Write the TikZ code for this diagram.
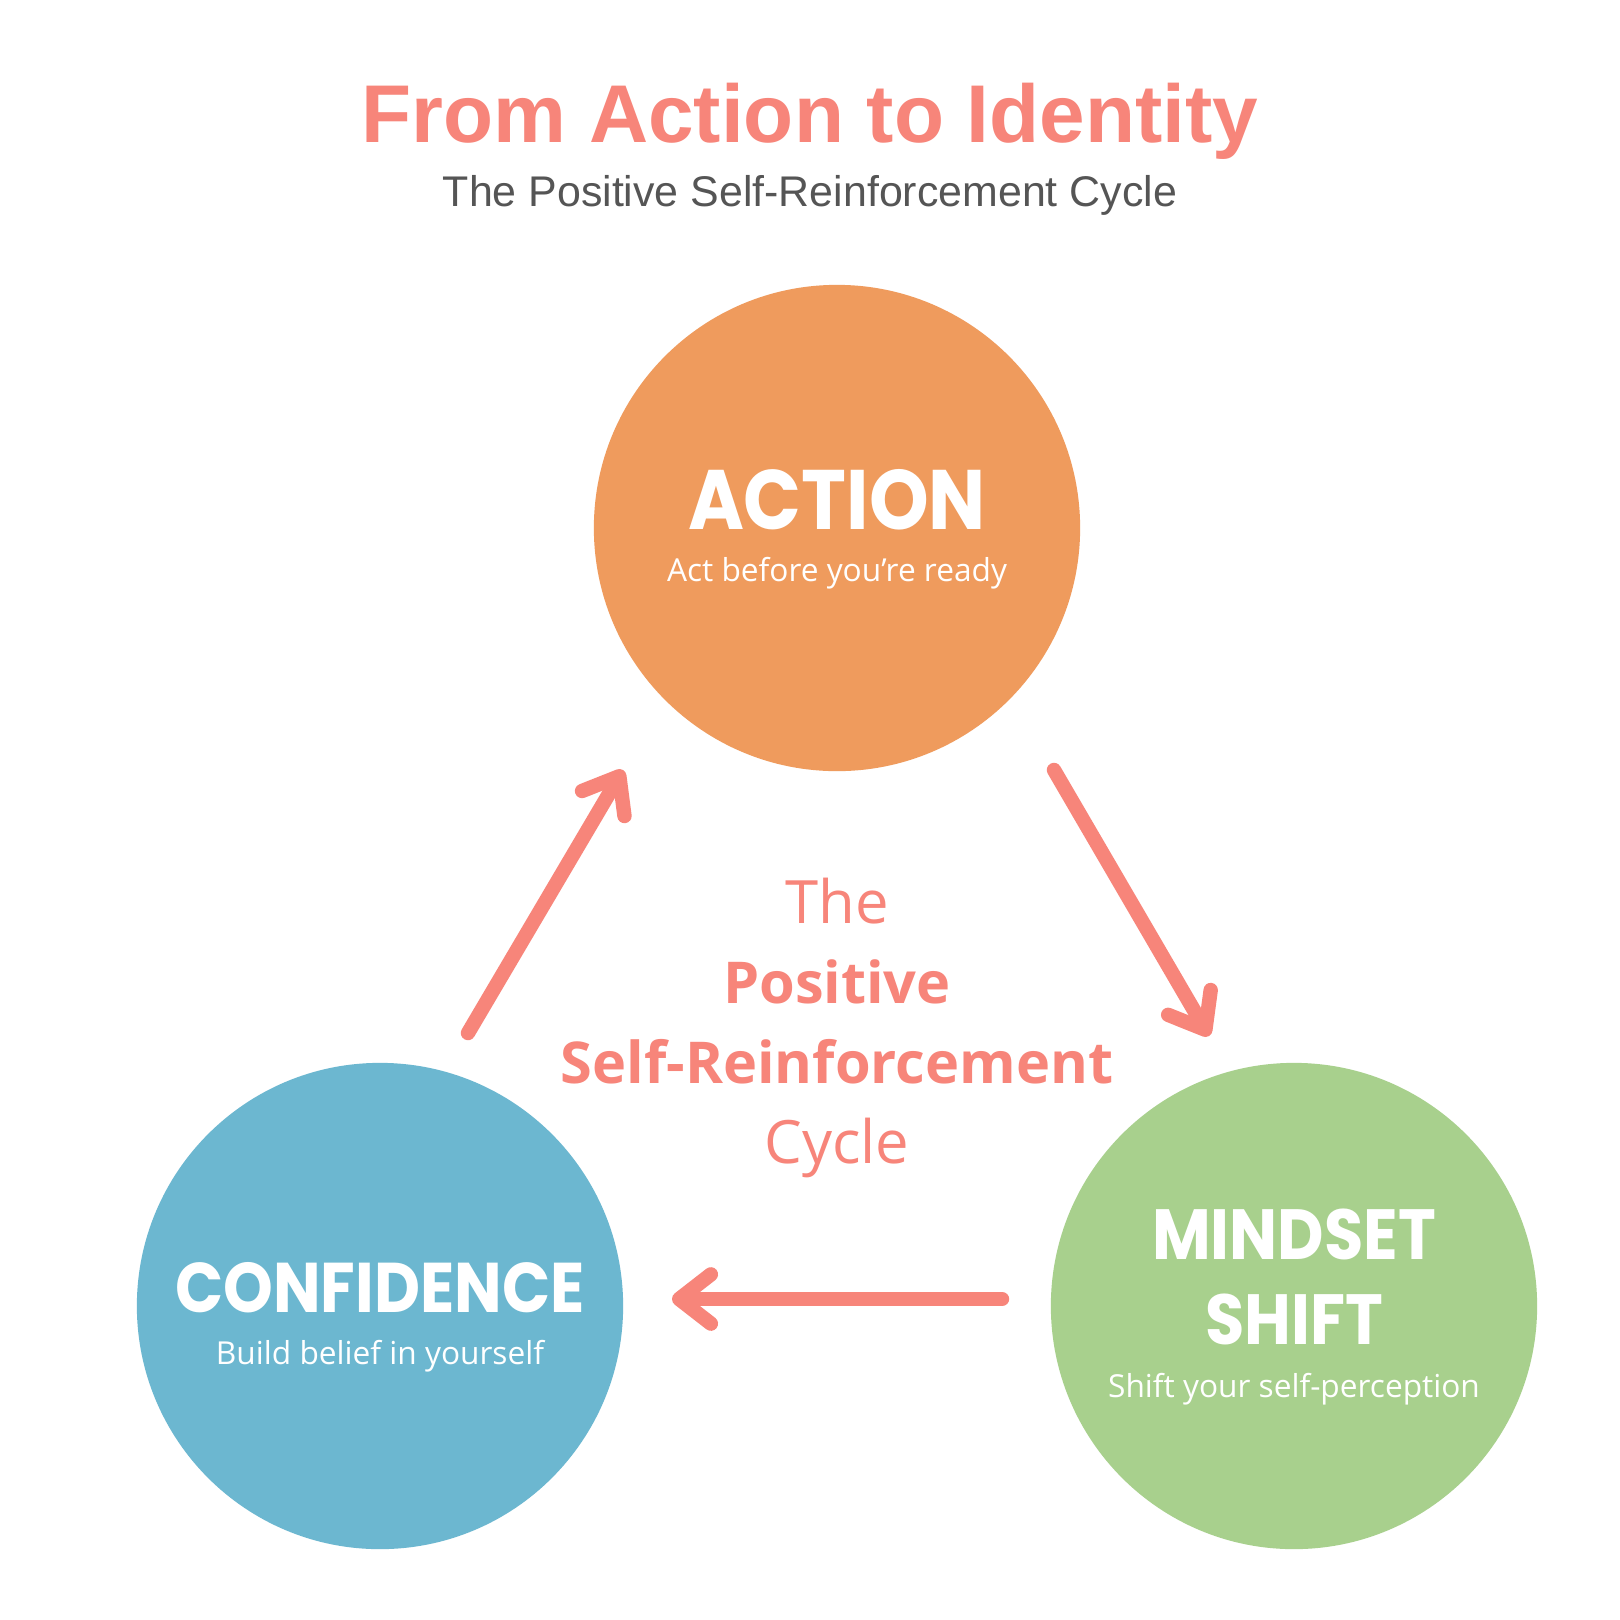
\documentclass[tikz,border=0pt]{standalone}
\usepackage{fontspec}
\usetikzlibrary{arrows.meta, positioning}
\newfontfamily\titlefont{Liberation Sans}
\newfontfamily\headfont[FakeStretch=0.9]{Poppins}
\newfontfamily\bodyfont{Open Sans}
\definecolor{salmon}{HTML}{F7857A}
\definecolor{actorange}{HTML}{EF9B5D}
\definecolor{confblue}{HTML}{6CB7D0}
\definecolor{mindgreen}{HTML}{A8D08D}
\definecolor{subgrey}{HTML}{555555}
\begin{document}
\begin{tikzpicture}[
  x=0.01cm, y=-0.01cm,
  stage/.style={circle, minimum size=4.86cm, inner sep=0pt},
  head/.style={font=\headfont\bfseries\fontsize{24}{26}\selectfont, text=white},
  note/.style={font=\bodyfont\fontsize{9}{11}\selectfont, text=white},
  mid/.style={font=\bodyfont\fontsize{17}{22}\selectfont, text=salmon},
  midbold/.style={font=\bodyfont\bfseries\fontsize{16.4}{22}\selectfont, text=salmon},
  cycle/.style={-{Straight Barb[length=9pt, width=14pt, round]}, line width=4.1pt, draw=salmon, line cap=round}
]
  \useasboundingbox (0,0) rectangle (1620,1620);
  \fill[white] (0,0) rectangle (1620,1620);

  % Title
  \node[anchor=base, font=\titlefont\bfseries\fontsize{23.3}{26}\selectfont, text=salmon] (title) at (810,142) {From Action to Identity};
  \node[anchor=base, font=\titlefont\fontsize{12.2}{14}\selectfont, text=subgrey] (subtitle) at (810,206) {The Positive Self-Reinforcement Cycle};

  % Stages
  \node[stage, fill=actorange] (action) at (837,528) {};
  \node[stage, fill=confblue] (confidence) at (380,1306) {};
  \node[stage, fill=mindgreen] (mindset) at (1294,1306) {};

  \node[head, anchor=base] (actionhead) at (837,529) {ACTION};
  \node[note, anchor=base] (actionnote) at (837,581) {Act before you’re ready};
  \node[head, anchor=base, font=\headfont\bfseries\fontsize{20}{24}\selectfont] (confhead) at (380,1312) {CONFIDENCE};
  \node[note, anchor=base] (confnote) at (380,1364) {Build belief in yourself};
  \node[head, anchor=base, font=\headfont\bfseries\fontsize{20.2}{24}\selectfont] (mindhead) at (1294,1259) {MINDSET};
  \node[head, anchor=base, font=\headfont\bfseries\fontsize{20.2}{24}\selectfont] (shifthead) at (1294,1344) {SHIFT};
  \node[note, anchor=base] (mindnote) at (1294,1397) {Shift your self-perception};

  % Centre label
  \node[mid, anchor=base] (the) at (837,923) {The};
  \node[midbold, anchor=base] (positive) at (837,1003) {Positive};
  \node[midbold, anchor=base] (selfre) at (837,1083) {Self-Reinforcement};
  \node[mid, anchor=base] (cyc) at (837,1163) {Cycle};

  % Arrows
  \coordinate (c2a) at (468,1033);
  \coordinate (a2c) at (623,770);
  \coordinate (a2m) at (1054,770);
  \coordinate (m2a) at (1209,1036);
  \coordinate (m2c) at (1002,1299);
  \coordinate (c2m) at (672,1299);
  \draw[cycle] (c2a) -- (a2c);
  \draw[cycle] (a2m) -- (m2a);
  \draw[cycle] (m2c) -- (c2m);
\end{tikzpicture}
\end{document}
